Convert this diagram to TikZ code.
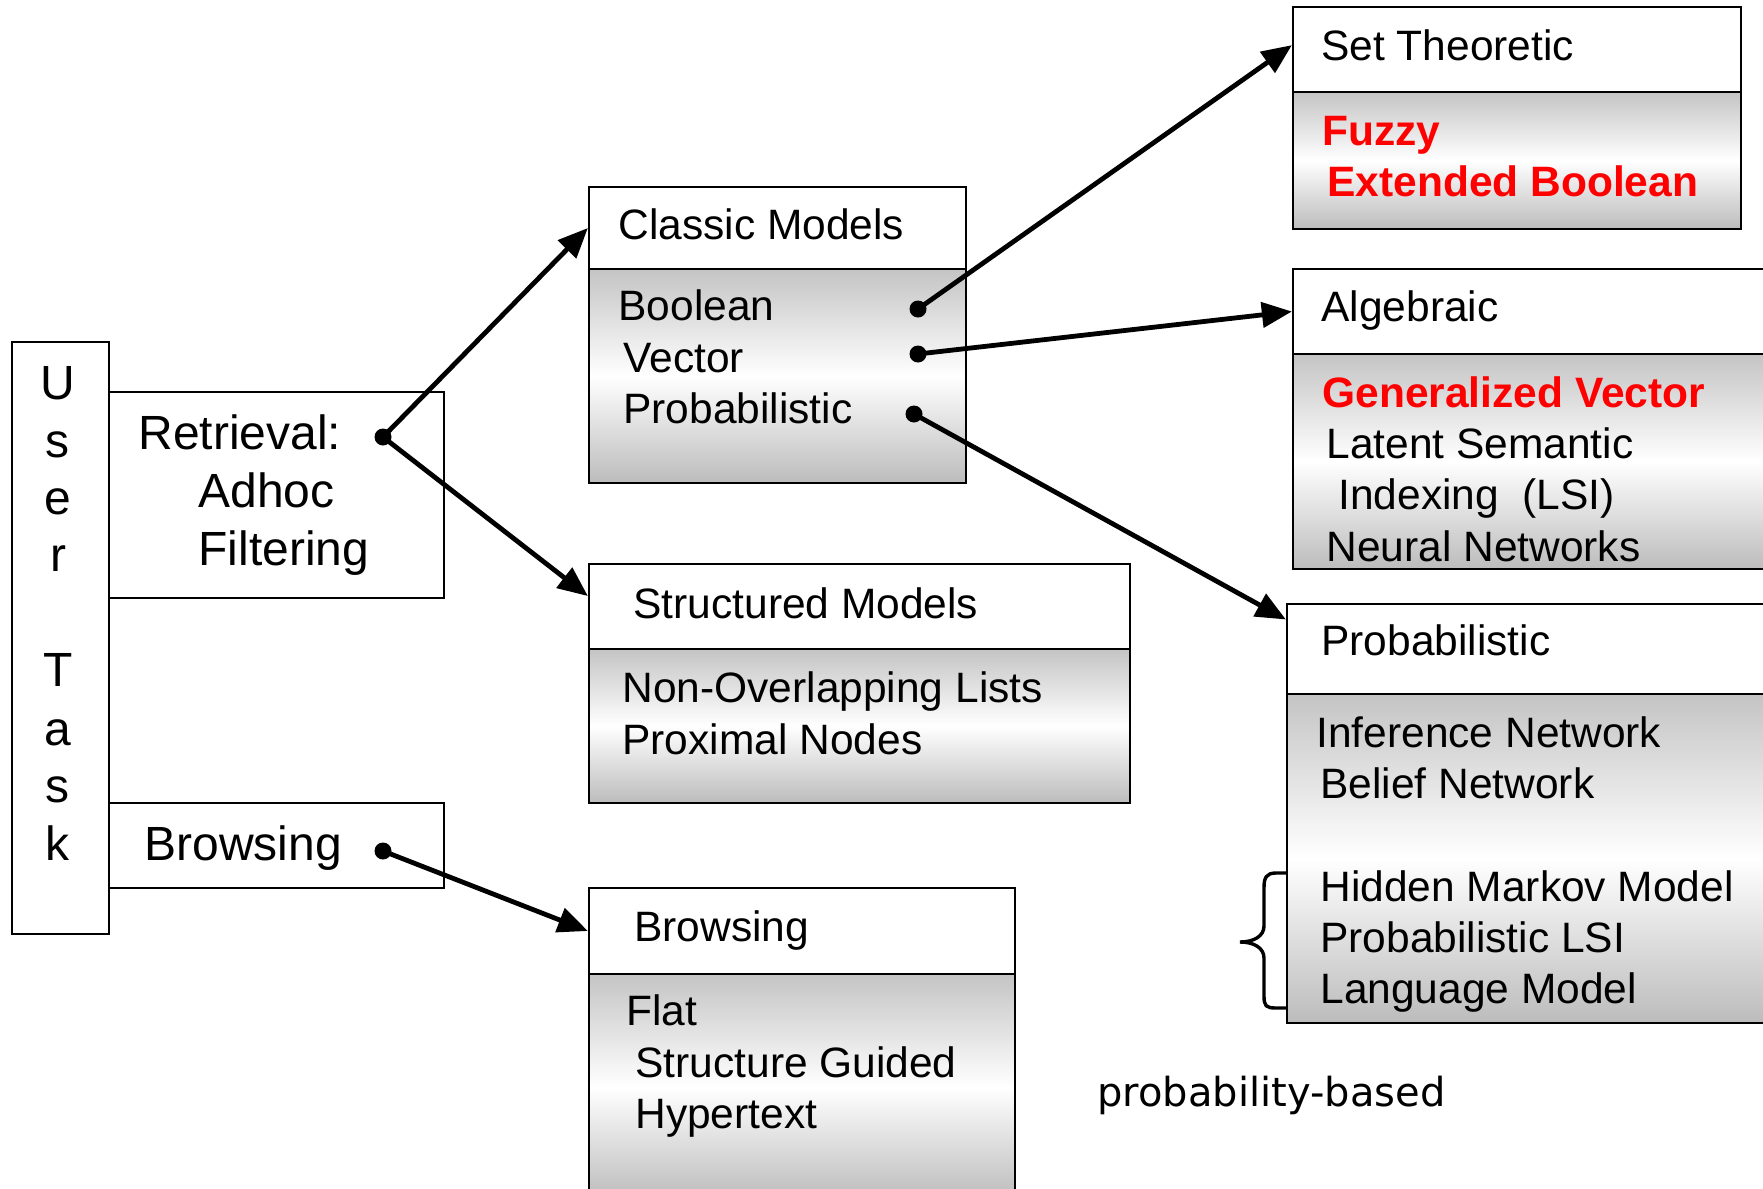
\documentclass[tikz,border=0pt]{standalone}
\usepackage{fontspec}
\setmainfont{Liberation Sans}
\newfontfamily\comicfont{DejaVu Sans}
\usetikzlibrary{arrows.meta,calc,fit}
\definecolor{boxgray}{RGB}{196,196,196}
\definecolor{boxgrayb}{RGB}{188,188,188}
\definecolor{hired}{RGB}{255,0,0}
\begin{document}
\begin{tikzpicture}[x=0.5pt,y=-0.5pt,
  hdr/.style={draw=black, line width=1.1pt, fill=white, inner sep=0pt},
  cmp/.style={draw=black, line width=1.1pt, inner sep=0pt, top color=boxgray, bottom color=boxgrayb, middle color=white},
  txt/.style={anchor=base west, inner sep=0pt, font=\fontsize{21.25}{25}\selectfont},
  redtxt/.style={anchor=base west, inner sep=0pt, text=hired, font=\fontsize{21.25}{25}\selectfont\bfseries},
  big/.style={anchor=base west, inner sep=0pt, font=\fontsize{24}{28}\selectfont},
  letter/.style={anchor=base, inner sep=0pt, font=\fontsize{24}{28}\selectfont},
  dotn/.style={circle, fill=black, inner sep=0pt, minimum size=8.5pt},
  arr/.style={line width=2.4pt, -{Triangle[length=15pt,width=12.5pt]}},
  bracestyle/.style={line width=1.7pt}]
\useasboundingbox (0,0) rectangle (1763,1189);
\fill[white] (0,0) rectangle (1763,1189);

% left boxes
\node[hdr, fit={(12,342) (109,934)}] (ut) {};
\node[hdr, fit={(109,392) (444,598)}] (rt) {};
\node[hdr, fit={(109,803) (444,888)}] (bs) {};

% classic models
\node[hdr, fit={(589,187) (966,269)}] (cmh) {};
\node[cmp, fit={(589,269) (966,483)}] (cmb) {};
% structured models
\node[hdr, fit={(589,564) (1130,649)}] (smh) {};
\node[cmp, fit={(589,649) (1130,803)}] (smb) {};
% browsing
\node[hdr, fit={(589,888) (1015,974)}] (bwh) {};
\node[cmp, fit={(589,974) (1015,1200)}] (bwb) {};
% set theoretic
\node[hdr, fit={(1293,7) (1741,92)}] (sth) {};
\node[cmp, fit={(1293,92) (1741,229)}] (stb) {};
% algebraic
\node[hdr, fit={(1293,269) (1790,354)}] (alh) {};
\node[cmp, fit={(1293,354) (1790,569)}] (alb) {};
% probabilistic
\node[hdr, fit={(1287,604) (1790,694)}] (prh) {};
\node[cmp, fit={(1287,694) (1790,1023)}] (prb) {};

% User Task letters
\node[letter] (u1) at (58,399) {U};
\node[letter] (u2) at (58,457) {s};
\node[letter] (u3) at (58,514) {e};
\node[letter] (u4) at (58,571) {r};
\node[letter] (u5) at (58,686) {T};
\node[letter] (u6) at (58,745) {a};
\node[letter] (u7) at (58,802) {s};
\node[letter] (u8) at (58,860) {k};

% left texts
\node[big] (t-ret) at (138,449) {Retrieval:};
\node[big] (t-adh) at (198,507) {Adhoc};
\node[big] (t-fil) at (198,565) {Filtering};
\node[big] (t-bs) at (144,860) {Browsing};

% classic texts
\node[txt] (t-cm) at (618,239) {Classic Models};
\node[txt] (t-bool) at (618,320) {Boolean};
\node[txt] (t-vec) at (623,372) {Vector};
\node[txt] (t-prob) at (623,423) {Probabilistic};

% structured texts
\node[txt] (t-sm) at (633,618) {Structured Models};
\node[txt] (t-nol) at (622,702) {Non-Overlapping Lists};
\node[txt] (t-pn) at (622,754) {Proximal Nodes};

% browsing texts
\node[txt] (t-bw) at (634,941) {Browsing};
\node[txt] (t-flat) at (626,1025) {Flat};
\node[txt] (t-sg) at (635,1077) {Structure Guided};
\node[txt] (t-ht) at (635,1128) {Hypertext};

% set theoretic texts
\node[txt] (t-st) at (1321,60) {Set Theoretic};
\node[redtxt] (t-fz) at (1322,145) {Fuzzy};
\node[redtxt] (t-eb) at (1327,196) {Extended Boolean};

% algebraic texts
\node[txt] (t-al) at (1321,321) {Algebraic};
\node[redtxt] (t-gv) at (1322,407) {Generalized Vector};
\node[txt] (t-ls) at (1326,458) {Latent Semantic};
\node[txt] (t-ix) at (1338,509) {Indexing\ \ (LSI)};
\node[txt] (t-nn) at (1326,561) {Neural Networks};

% probabilistic texts
\node[txt] (t-pr) at (1321,655) {Probabilistic};
\node[txt] (t-in) at (1316,747) {Inference Network};
\node[txt] (t-bn) at (1320,798) {Belief Network};
\node[txt] (t-hm) at (1320,901) {Hidden Markov Model};
\node[txt] (t-pl) at (1320,952) {Probabilistic LSI};
\node[txt] (t-lm) at (1320,1003) {Language Model};

% probability-based
\node[anchor=base west, inner sep=0pt, font=\comicfont\fontsize{20}{24}\selectfont] (pb) at (1097,1106) {probability-based};

% brace
\draw[bracestyle] (prb.west |- 0,873) -- (1276,873) .. controls (1266,873) and (1264,878) .. (1264,888) -- (1264,926) .. controls (1264,936) and (1254,942) .. (1240,942) .. controls (1254,942) and (1264,948) .. (1264,958) -- (1264,996) .. controls (1264,1006) and (1266,1008) .. (1276,1008) -- (prb.west |- 0,1008);

% dots
\node[dotn] (rd) at (383,437) {};
\node[dotn] (bd) at (383,851) {};
\node[dotn] (dbool) at (918,309) {};
\node[dotn] (dvec) at (918,354) {};
\node[dotn] (dprob) at (914,414) {};

% arrows
\draw[arr] (rd.center) -- (cmh.west);
\draw[arr] (rd.center) -- ($(smh.north west)!0.38!(smh.south west)$);
\draw[arr] (bd.center) -- (bwh.west);
\draw[arr] (dbool.center) -- ($(sth.north west)!0.45!(sth.south west)$);
\draw[arr] (dvec.center) -- (alh.west);
\draw[arr] (dprob.center) -- ($(prh.north west)!0.18!(prh.south west)$);
\end{tikzpicture}
\end{document}
